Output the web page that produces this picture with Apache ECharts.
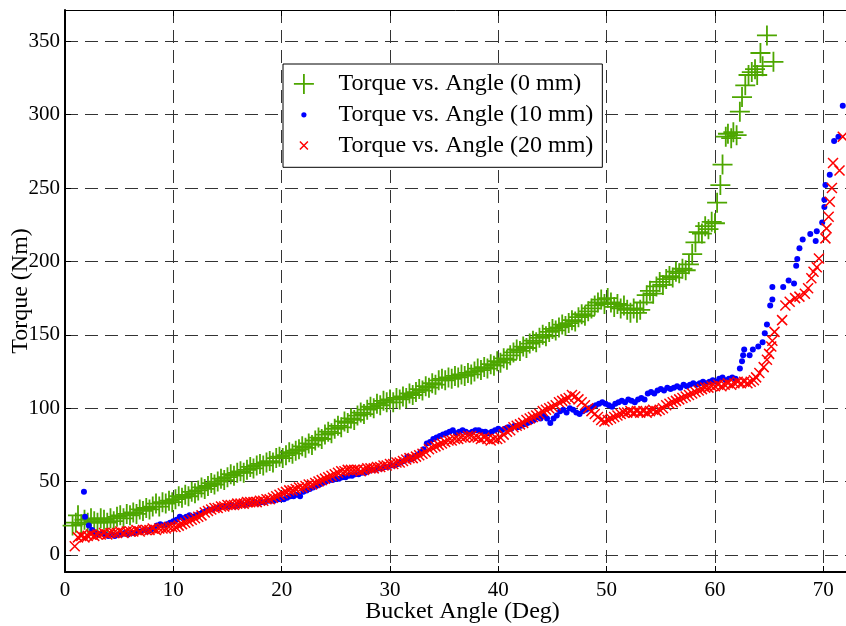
<!DOCTYPE html>
<html>
<head>
<meta charset="utf-8">
<script src="https://cdn.jsdelivr.net/npm/echarts@6/dist/echarts.min.js"></script>
<style>
html,body{margin:0;padding:0;background:#fff;}
#chart{width:846px;height:626px;}
</style>
</head>
<body>
<div id="chart"></div>
<script>
// Torque vs. Angle (0 mm): [angle deg, torque Nm]
const data0mm = [
[0.7,20],[1.0,22],[1.2,27],[1.5,21],[1.8,24],[2.1,22],[2.4,25],[2.7,23],[3.0,22],[3.3,25],[3.6,24],[3.9,22],[4.2,25],[4.5,23],[4.8,26],
[5.1,27],[5.4,25],[5.7,28],[6.0,27],[6.3,29],[6.6,28],[6.9,31],[7.2,30],[7.5,32],[7.8,31],[8.1,33],[8.4,35],[8.7,33],[9.0,36],[9.3,35],
[9.6,37],[9.9,36],[10.2,38],[10.5,40],[10.8,39],[11.1,41],[11.4,40],[11.7,43],[12.0,42],[12.3,44],[12.6,46],[12.9,45],[13.2,47],[13.5,49],
[13.8,48],[14.1,50],[14.4,52],[14.7,51],[15.0,53],[15.3,55],[15.6,54],[15.9,56],[16.2,57],[16.5,56],[16.8,58],[17.1,60],[17.4,59],[17.7,61],
[18.0,62],[18.3,61],[18.6,63],[18.9,64],[19.2,63],[19.5,66],[19.8,67],[20.1,66],[20.4,68],[20.7,70],[21.0,69],[21.3,71],[21.6,72],[21.9,74],
[22.2,73],[22.5,76],[22.8,75],[23.1,78],[23.4,80],[23.7,79],[24.0,82],[24.3,84],[24.6,83],[24.9,86],[25.2,88],[25.5,87],[25.8,91],[26.1,90],
[26.4,93],[26.7,92],[27.0,95],[27.3,97],[27.6,96],[27.9,99],[28.2,101],[28.5,100],[28.8,103],[29.1,102],[29.4,105],[29.7,104],[30.0,106],
[30.3,104],[30.6,107],[30.9,106],[31.2,108],[31.5,107],[31.8,110],[32.1,109],[32.4,111],[32.7,113],[33.0,112],[33.3,115],[33.6,114],[33.9,117],
[34.2,116],[34.5,119],[34.8,120],[35.1,119],[35.4,121],[35.7,120],[36.0,122],[36.3,121],[36.6,123],[36.9,122],[37.2,124],[37.5,123],[37.8,125],
[38.1,127],[38.4,126],[38.7,128],[39.0,127],[39.3,130],[39.6,129],[39.9,132],[40.2,131],[40.5,134],[40.8,133],[41.1,136],[41.4,138],[41.7,140],
[42.0,139],[42.3,142],[42.6,141],[42.9,144],[43.2,146],[43.5,145],[43.8,148],[44.1,150],[44.4,149],[44.7,152],[45.0,154],[45.3,153],[45.6,155],
[45.9,157],[46.2,156],[46.5,158],[46.8,160],[47.1,159],[47.4,162],[47.7,164],[48.0,163],[48.3,166],[48.6,168],[48.9,170],[49.2,172],[49.5,174],
[49.8,171],[50.1,175],[50.4,172],[50.7,169],[51.0,171],[51.3,168],[51.6,170],[51.9,167],[52.2,165],[52.5,168],[52.8,165],[53.1,167],[53.4,172],
[53.7,177],[54.0,180],[54.3,178],[54.6,183],[54.9,186],[55.2,184],[55.5,188],[55.8,190],[56.1,189],[56.4,193],[56.7,192],[57.0,195],[57.3,194],
[57.6,198],[57.9,205],[58.2,213],[58.5,220],[58.8,219],[59.1,224],[59.4,222],[59.7,227],[60.0,226],[60.2,240],[60.5,252],[60.7,266],[61.0,285],
[61.2,287],[61.5,284],[61.7,288],[62.0,286],[62.3,302],[62.5,312],[62.8,320],[63.1,327],[63.4,329],[63.7,331],[63.9,327],[64.2,342],[64.4,333],
[64.8,354],[65.4,336]
];
// Torque vs. Angle (10 mm)
const data10mm = [
[1.75,43],[1.85,26],[2.2,20],[2.5,17],[2.8,15],[3.1,14],[3.4,15],[3.7,14],[4.0,13],[4.3,14],[4.6,13],[4.9,14],[5.2,14],[5.5,15],[5.8,14],
[6.1,15],[6.4,15],[6.7,16],[7.0,16],[7.3,17],[7.6,16],[7.9,17],[8.2,18],[8.5,20],[8.8,21],[9.1,20],[9.4,21],[9.7,22],[10.0,23],[10.3,24],
[10.6,26],[10.9,25],[11.2,26],[11.5,27],[11.8,26],[12.1,27],[12.4,28],[12.7,29],[13.0,30],[13.3,31],[13.6,31],[13.9,32],[14.2,32],[14.5,33],
[14.8,33],[15.1,33],[15.4,34],[15.7,33],[16.0,34],[16.3,35],[16.6,34],[16.9,35],[17.2,35],[17.5,36],[17.8,35],[18.1,36],[18.4,36],[18.7,37],
[19.0,37],[19.3,37],[19.6,38],[19.9,38],[20.2,38],[20.5,39],[20.8,40],[21.1,40],[21.4,41],[21.7,40],[22.0,43],[22.3,44],[22.6,45],[22.9,46],
[23.2,47],[23.5,48],[23.8,49],[24.1,50],[24.4,51],[24.7,51],[25.0,52],[25.3,52],[25.6,53],[25.9,53],[26.2,54],[26.5,54],[26.8,55],[27.1,55],
[27.4,56],[27.7,56],[28.0,57],[28.3,58],[28.6,58],[28.9,59],[29.2,59],[29.5,60],[29.8,60],[30.1,61],[30.4,61],[30.7,62],[31.0,63],[31.3,64],
[31.6,67],[31.9,65],[32.2,66],[32.5,68],[32.8,70],[33.1,72],[33.4,76],[33.7,77],[34.0,79],[34.3,80],[34.6,81],[34.9,82],[35.2,83],[35.5,84],
[35.8,85],[36.1,83],[36.4,84],[36.7,85],[37.0,84],[37.3,83],[37.6,84],[37.9,85],[38.2,85],[38.5,84],[38.8,84],[39.1,83],[39.4,84],[39.7,85],
[40.0,86],[40.3,85],[40.6,86],[40.9,87],[41.2,86],[41.5,88],[41.8,87],[42.1,88],[42.4,89],[42.7,90],[43.0,91],[43.3,92],[43.6,94],[43.9,93],
[44.2,95],[44.5,93],[44.8,90],[45.1,93],[45.4,95],[45.7,98],[46.0,99],[46.3,97],[46.6,100],[46.9,99],[47.2,97],[47.5,96],[47.8,98],[48.1,99],
[48.4,100],[48.7,101],[49.0,102],[49.3,103],[49.6,104],[49.9,103],[50.2,102],[50.5,101],[50.8,103],[51.1,104],[51.4,105],[51.7,104],[52.0,106],
[52.3,105],[52.6,104],[52.9,106],[53.2,107],[53.5,106],[53.8,110],[54.1,111],[54.4,110],[54.7,112],[55.0,113],[55.3,112],[55.6,114],[55.9,113],
[56.2,114],[56.5,115],[56.8,114],[57.1,116],[57.4,115],[57.7,116],[58.0,117],[58.3,116],[58.6,117],[58.9,118],[59.2,117],[59.5,118],[59.8,119],
[60.1,118],[60.4,120],[60.7,121],[61.0,119],[61.3,120],[61.6,121],[61.9,120],[62.3,127],[62.5,132],[62.6,136],[62.7,140],[63.2,136],[63.5,140],
[64.0,142],[64.4,145],[64.6,151],[64.8,157],[65.1,170],[65.3,174],[65.3,182.5],[66.3,182.5],[66.8,187],[67.3,185],[67.5,197],[67.6,201.6],
[67.8,209],[68.1,215],[68.8,218.6],[69.3,214],[69.4,220.5],[69.9,226.6],[70.1,237],[70.1,242],[70.2,252],[70.6,259],[71.0,282],[71.4,285],[71.8,306]
];
// Torque vs. Angle (20 mm)
const data20mm = [
[0.9,6],[1.2,12],[1.5,13],[1.8,12],[2.1,13],[2.4,14],[2.7,13],[3.0,14],[3.3,14],[3.6,15],[3.9,14],[4.2,15],[4.5,15],[4.8,15],[5.1,16],
[5.4,15],[5.7,16],[6.0,16],[6.3,16],[6.6,17],[6.9,16],[7.2,17],[7.5,17],[7.8,17],[8.1,18],[8.4,17],[8.7,18],[9.0,18],[9.3,18],[9.6,19],
[9.9,19],[10.2,19],[10.5,20],[10.8,21],[11.1,22],[11.4,23],[11.7,24],[12.0,25],[12.3,26],[12.6,27],[12.9,29],[13.2,30],[13.5,31],[13.8,32],
[14.1,32],[14.4,33],[14.7,33],[15.0,34],[15.3,34],[15.6,34],[15.9,35],[16.2,35],[16.5,35],[16.8,36],[17.1,36],[17.4,36],[17.7,36],[18.0,37],
[18.3,37],[18.6,38],[18.9,38],[19.2,39],[19.5,40],[19.8,41],[20.1,42],[20.4,43],[20.7,44],[21.0,44],[21.3,45],[21.6,46],[21.9,46],[22.2,47],
[22.5,48],[22.8,48],[23.1,49],[23.4,50],[23.7,51],[24.0,52],[24.3,53],[24.6,54],[24.9,55],[25.2,56],[25.5,57],[25.8,57],[26.1,58],[26.4,58],
[26.7,58],[27.0,58],[27.3,57],[27.6,58],[27.9,59],[28.2,59],[28.5,59],[28.8,60],[29.1,60],[29.4,61],[29.7,61],[30.0,62],[30.3,62],[30.6,63],
[30.9,63],[31.2,64],[31.5,65],[31.8,66],[32.1,66],[32.4,67],[32.7,68],[33.0,69],[33.3,70],[33.6,72],[33.9,73],[34.2,74],[34.5,75],[34.8,76],
[35.1,77],[35.4,78],[35.7,78],[36.0,79],[36.3,79],[36.6,80],[36.9,80],[37.2,81],[37.5,81],[37.8,80],[38.1,80],[38.4,79],[38.7,80],[39.0,79],
[39.3,78],[39.6,79],[39.9,79],[40.2,80],[40.5,82],[40.8,84],[41.1,85],[41.4,87],[41.7,88],[42.0,89],[42.3,90],[42.6,92],[42.9,93],[43.2,94],
[43.5,95],[43.8,96],[44.1,98],[44.4,99],[44.7,100],[45.0,101],[45.3,102],[45.6,104],[45.9,105],[46.2,106],[46.5,107],[46.8,109],[47.1,108],
[47.4,106],[47.7,104],[48.0,102],[48.3,100],[48.6,98],[48.9,96],[49.2,94],[49.5,92],[49.8,91],[50.1,92],[50.4,93],[50.7,94],[51.0,95],
[51.3,96],[51.6,97],[51.9,97],[52.2,98],[52.5,97],[52.8,98],[53.1,97],[53.4,98],[53.7,97],[54.0,98],[54.3,99],[54.6,98],[54.9,99],[55.2,100],
[55.5,102],[55.8,103],[56.1,104],[56.4,105],[56.7,106],[57.0,107],[57.3,108],[57.6,109],[57.9,110],[58.2,111],[58.5,112],[58.8,113],[59.1,114],
[59.4,114],[59.7,115],[60.0,115],[60.3,116],[60.6,115],[60.9,116],[61.2,117],[61.5,116],[61.8,117],[62.1,118],[62.4,117],[62.7,118],[63.0,117],
[63.3,118],[63.6,119],[63.8,121],[64.1,124],[64.5,128],[64.8,133],[65.0,137],[65.2,142],[65.3,146],[65.5,152],[66.2,160],[66.5,170],[66.9,172.5],
[67.4,175],[67.8,176],[68.3,178],[68.6,181.7],[68.9,188.5],[69.1,193],[69.4,196],[69.6,202],[70.2,215.7],[70.3,222.5],[70.5,230.5],[70.6,240.7],
[70.8,250],[70.9,267],[71.5,262],[71.8,285]
];
const seriesNames = ['Torque vs. Angle (0 mm)', 'Torque vs. Angle (10 mm)', 'Torque vs. Angle (20 mm)'];
const xTicks = [0, 10, 20, 30, 40, 50, 60, 70];
const yTicks = [0, 50, 100, 150, 200, 250, 300, 350];

const FONT = "'Liberation Serif', 'Times New Roman', serif";
const GREEN = '#4da600', BLUE = '#0000ff', RED = '#ff0000';
const gridDash = { color: '#333', width: 1, type: [13, 7] };

const chart = echarts.init(document.getElementById('chart'), null, { renderer: 'canvas' });
chart.setOption({
  animation: false,
  backgroundColor: '#ffffff',
  grid: { left: 65, top: 10, right: -14.1, bottom: 54, containLabel: false, outerBoundsMode: 'none' },
  legend: {
    orient: 'vertical',
    left: 283, top: 64,
    padding: [7, 9, 9, 8],
    itemWidth: 59, itemHeight: 24, itemGap: 6,
    backgroundColor: '#ffffff',
    borderColor: '#000', borderWidth: 1, borderRadius: 0,
    textStyle: { fontFamily: FONT, fontSize: 24, color: '#000', lineHeight: 24 },
    data: [
      { name: seriesNames[0], icon: 'path://M0,0M24,24M2,12H22M12,2V22', itemStyle: { color: GREEN, borderColor: GREEN, borderWidth: 1.8 } },
      { name: seriesNames[1], icon: 'path://M0,0M24,24M9.4,12A2.6,2.6,0,1,1,14.6,12A2.6,2.6,0,1,1,9.4,12Z', itemStyle: { color: BLUE, borderWidth: 0 } },
      { name: seriesNames[2], icon: 'path://M0,0M24,24M8,8L16,16M16,8L8,16', itemStyle: { color: RED, borderColor: RED, borderWidth: 1.5 } }
    ]
  },
  xAxis: [{
    type: 'value', position: 'bottom', min: 0, max: 73.4, interval: 10,
    axisLine: { onZero: false, lineStyle: { color: '#000', width: 2 } },
    axisTick: { inside: true, length: 6, lineStyle: { color: '#000', width: 1 } },
    axisLabel: { color: '#000', fontFamily: FONT, fontSize: 21, margin: 8, showMaxLabel: false,
      formatter: v => xTicks.indexOf(v) >= 0 ? String(v) : '' },
    splitLine: { show: true, showMinLine: false, showMaxLine: false, lineStyle: gridDash },
    name: 'Bucket Angle (Deg)', nameLocation: 'middle', nameGap: 28, nameMoveOverlap: false,
    nameTextStyle: { fontFamily: FONT, fontSize: 24, color: '#000', verticalAlign: 'top', lineHeight: 24 }
  }, {
    type: 'value', position: 'top', min: 0, max: 73.4, interval: 10,
    axisLine: { onZero: false, lineStyle: { color: '#000', width: 1 } },
    axisTick: { inside: true, length: 6, lineStyle: { color: '#000', width: 1 } },
    axisLabel: { show: false }, splitLine: { show: false }
  }],
  yAxis: [{
    type: 'value', position: 'left', min: -11.6, max: 371.3, splitNumber: 8,
    axisLine: { onZero: false, lineStyle: { color: '#000', width: 2 } },
    axisTick: { inside: true, length: 6, lineStyle: { color: '#000', width: 1 } },
    axisLabel: { color: '#000', fontFamily: FONT, fontSize: 21, margin: 5, showMinLabel: false, showMaxLabel: false,
      formatter: v => yTicks.indexOf(Math.round(v * 1000) / 1000) >= 0 ? String(Math.round(v)) : '' },
    splitLine: { show: true, showMinLine: false, showMaxLine: false, lineStyle: gridDash },
    name: 'Torque (Nm)', nameLocation: 'middle', nameGap: 32, nameMoveOverlap: false,
    nameTextStyle: { fontFamily: FONT, fontSize: 24, color: '#000', lineHeight: 24 }
  }],
  series: [
    { name: seriesNames[0], type: 'scatter', xAxisIndex: 0, yAxisIndex: 0, data: data0mm,
      symbol: 'path://M0,10H20M10,0V20', symbolSize: 20,
      itemStyle: { color: GREEN, borderColor: GREEN, borderWidth: 1.8, opacity: 1 },
      emphasis: { disabled: true }, silent: true },
    { name: seriesNames[1], type: 'scatter', xAxisIndex: 0, yAxisIndex: 0, data: data10mm,
      symbol: 'circle', symbolSize: 6,
      itemStyle: { color: BLUE, opacity: 1 },
      emphasis: { disabled: true }, silent: true },
    { name: seriesNames[2], type: 'scatter', xAxisIndex: 0, yAxisIndex: 0, data: data20mm,
      symbol: 'path://M0,0L10,10M10,0L0,10', symbolSize: 10,
      itemStyle: { color: RED, borderColor: RED, borderWidth: 1.5, opacity: 1 },
      emphasis: { disabled: true }, silent: true }
  ]
});
</script>
</body>
</html>
